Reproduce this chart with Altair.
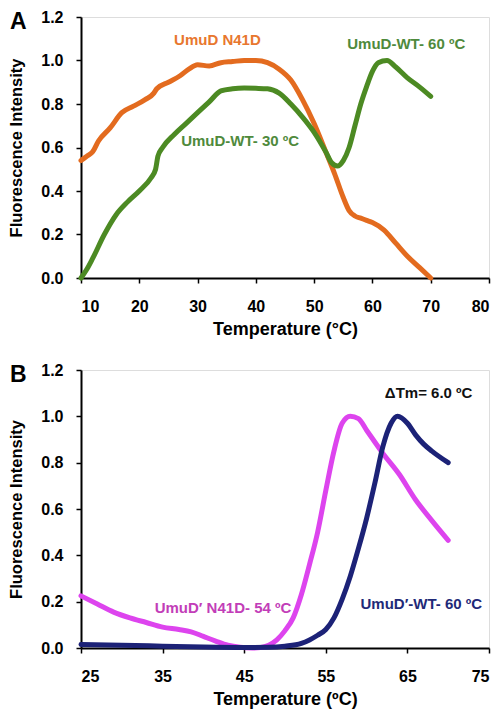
import altair as alt
import pandas as pd

FONT = "Liberation Sans"

# ---------- Panel A data ----------
a_n41d_t = [10, 11, 12, 13, 15, 17, 19, 21, 22.5, 23, 25, 27, 28.5, 30, 32, 34, 36, 38, 40, 42, 44, 46, 48, 50, 52, 53.5, 55, 56, 57, 58, 59, 60, 62, 64, 66, 68, 70]
a_n41d_v = [0.54, 0.56, 0.58, 0.63, 0.69, 0.76, 0.79, 0.82, 0.85, 0.87, 0.90, 0.93, 0.96, 0.98, 0.975, 0.99, 0.995, 1.0, 1.0, 0.99, 0.96, 0.91, 0.82, 0.71, 0.58, 0.48, 0.37, 0.31, 0.285, 0.275, 0.265, 0.255, 0.22, 0.16, 0.10, 0.05, 0.0]

a_wt_t = [10, 11, 12, 14, 16, 18, 20, 22, 22.8, 23.2, 24, 26, 28, 30, 32, 34, 36, 38, 40, 42, 44, 46, 48, 50, 52, 53, 54, 55, 56, 57, 58, 59, 60, 61, 62.5, 64, 66, 68, 70]
a_wt_v = [0.0, 0.04, 0.09, 0.20, 0.29, 0.35, 0.40, 0.46, 0.50, 0.56, 0.60, 0.66, 0.71, 0.76, 0.81, 0.86, 0.87, 0.873, 0.872, 0.87, 0.85, 0.80, 0.74, 0.67, 0.58, 0.53, 0.515, 0.54, 0.60, 0.70, 0.80, 0.88, 0.95, 0.99, 1.0, 0.97, 0.92, 0.88, 0.835]

# ---------- Panel B data ----------
b_n41d_t = [25, 27, 29, 31, 33, 35, 37, 38.5, 40, 41.5, 43, 44.5, 46, 47, 48, 49, 50, 51, 52, 53, 54, 55, 56, 57, 58, 59, 60, 62, 64, 66, 68, 70]
b_n41d_v = [0.225, 0.19, 0.155, 0.13, 0.11, 0.09, 0.08, 0.07, 0.05, 0.03, 0.012, 0.003, 0.0, 0.002, 0.012, 0.035, 0.075, 0.13, 0.23, 0.36, 0.50, 0.68, 0.85, 0.97, 1.0, 0.99, 0.94, 0.84, 0.75, 0.64, 0.55, 0.465]

b_wt_t = [25, 30, 35, 40, 45, 48, 50, 52, 53, 54, 55, 56, 57, 58, 59, 60, 61, 62, 63, 63.8, 65, 66, 67, 68, 70]
b_wt_v = [0.015, 0.012, 0.008, 0.004, 0.002, 0.003, 0.008, 0.02, 0.035, 0.055, 0.08, 0.13, 0.21, 0.31, 0.43, 0.56, 0.71, 0.87, 0.97, 1.0, 0.97, 0.92, 0.88, 0.85, 0.80]

# ---------- Annotations ----------
a_labels = ["UmuD N41D", "UmuD-WT- 60 ºC", "UmuD-WT- 30 ºC"]
a_label_t = [33.4, 65.8, 37.3]
a_label_v = [1.095, 1.075, 0.632]
a_label_c = ["#E8772E", "#4F8A3C", "#4F8A3C"]

b_labels = ["ΔTm= 6.0 ºC", "UmuD′ N41D- 54 ºC", "UmuD′-WT- 60 ºC"]
b_label_t = [67.6, 42.4, 66.7]
b_label_v = [1.10, 0.173, 0.19]
b_label_c = ["#111111", "#C23DB8", "#1F2A78"]


def axis_x(values):
    return alt.Axis(values=values, grid=False, domainColor="black", domainWidth=2,
                    tickColor="black", tickWidth=1.5, tickSize=5, labelPadding=15,
                    labelFont=FONT, labelFontSize=16, labelFontWeight="bold", labelColor="black",
                    titleFont=FONT, titleFontSize=18, titleFontWeight="bold", titleColor="black",
                    titlePadding=6)


def axis_y():
    return alt.Axis(values=[0, 0.2, 0.4, 0.6, 0.8, 1.0, 1.2], format=".1f", grid=False,
                    domainColor="black", domainWidth=2, tickColor="black", tickWidth=1.5,
                    tickSize=5, labelPadding=13, labelFont=FONT, labelFontSize=16,
                    labelFontWeight="bold", labelColor="black", titleFont=FONT,
                    titleFontSize=16.5, titleFontWeight="bold", titleColor="black",
                    titlePadding=16)


def panel(series, xdom, xvals, lab_df, letter, w, h, xtitle):
    xs = alt.Scale(domain=xdom, nice=False, zero=False)
    ys = alt.Scale(domain=[0, 1.2], nice=False)
    layers = []
    for i, (t, v, col) in enumerate(series):
        df = pd.DataFrame({"t": t, "v": v, "order": range(len(t))})
        if i == 0:
            xenc = alt.X("t:Q", scale=xs, axis=axis_x(xvals), title=xtitle)
            yenc = alt.Y("v:Q", scale=ys, axis=axis_y(), title="Fluorescence Intensity")
        else:
            xenc = alt.X("t:Q", scale=xs)
            yenc = alt.Y("v:Q", scale=ys)
        layers.append(
            alt.Chart(df).mark_line(strokeWidth=5, interpolate="monotone", strokeCap="round",
                                    color=col).encode(x=xenc, y=yenc, order="order:Q")
        )
    texts = alt.Chart(lab_df).mark_text(font=FONT, fontSize=15, fontWeight="bold").encode(
        x=alt.X("t:Q", scale=xs),
        y=alt.Y("v:Q", scale=ys),
        text="label:N",
        color=alt.Color("c:N", scale=None),
    )
    let = alt.Chart(pd.DataFrame({"l": [letter]})).mark_text(
        font=FONT, fontSize=23, fontWeight="bold", align="left", baseline="top", color="black"
    ).encode(x=alt.value(-71), y=alt.value(-6), text="l:N")
    return alt.layer(*layers, texts, let).properties(width=w, height=h)


labA = pd.DataFrame({"label": a_labels, "t": a_label_t, "v": a_label_v, "c": a_label_c})
labB = pd.DataFrame({"label": b_labels, "t": b_label_t, "v": b_label_v, "c": b_label_c})

chartA = panel([(a_n41d_t, a_n41d_v, "#E36B1F"), (a_wt_t, a_wt_v, "#4C8A23")],
               [10, 80], [10, 20, 30, 40, 50, 60, 70, 80], labA, "A", 408, 261,
               "Temperature (°C)")
chartB = panel([(b_n41d_t, b_n41d_v, "#DD44EE"), (b_wt_t, b_wt_v, "#1C2277")],
               [25, 75], [25, 35, 45, 55, 65, 75], labB, "B", 408, 278,
               "Temperature (ºC)")

chart = alt.vconcat(chartA, chartB, spacing=22).configure_view(
    stroke="black", strokeWidth=2
).configure(background="white", padding={"left": 0, "top": 0, "right": 0, "bottom": 0})

chart.save("out.html", embed_options={"renderer": "svg", "actions": False})
